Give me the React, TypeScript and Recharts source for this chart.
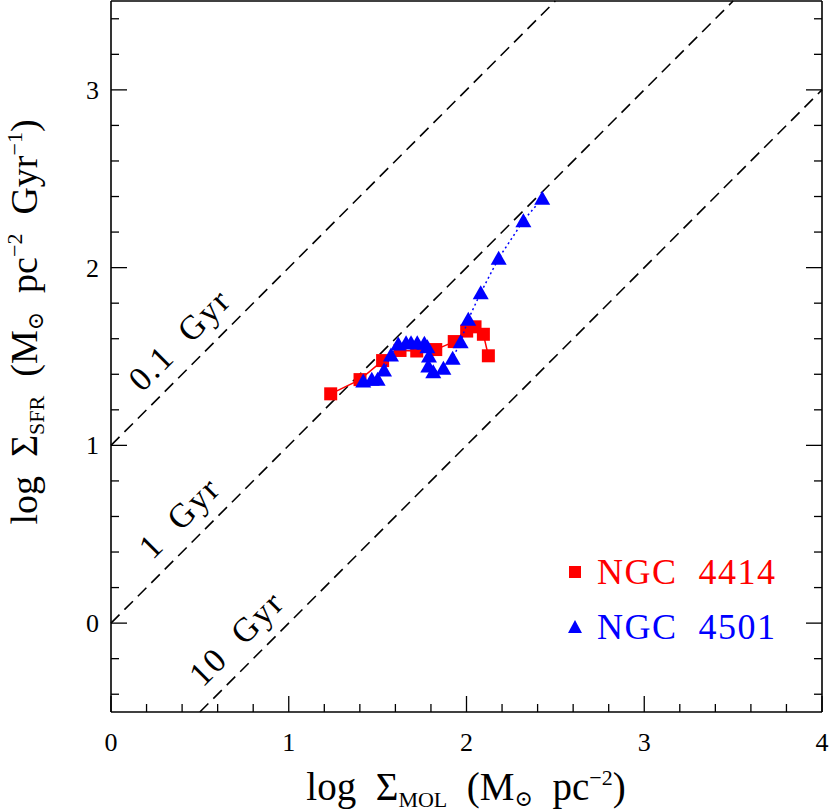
import React from 'react'
import { ScatterChart, Scatter, XAxis, YAxis, ReferenceLine, Legend } from 'recharts'

// NGC 4414 (red squares, solid line)
const ngc4414LogMol = [1.236, 1.401, 1.528, 1.626, 1.72, 1.827, 1.931, 2.001, 2.048, 2.095, 2.123]
const ngc4414LogSfr = [1.29, 1.37, 1.477, 1.534, 1.531, 1.539, 1.584, 1.643, 1.667, 1.625, 1.504]

// NGC 4501 (blue triangles, dotted line)
const ngc4501LogMol = [
  1.419, 1.467, 1.5, 1.536, 1.575, 1.616, 1.66, 1.688, 1.723, 1.763, 1.78,
  1.789, 1.785, 1.813, 1.87, 1.922, 1.967, 2.01, 2.08, 2.181, 2.32, 2.426,
]
const ngc4501LogSfr = [
  1.362, 1.372, 1.372, 1.424, 1.508, 1.57, 1.578, 1.578, 1.578, 1.574, 1.555,
  1.503, 1.446, 1.414, 1.434, 1.49, 1.583, 1.709, 1.859, 2.053, 2.264, 2.39,
]

// constant depletion time lines
const depletionLabels = ['0.1 Gyr', '1 Gyr', '10 Gyr']
const depletionGyr = [0.1, 1, 10]
const depletionLabelAt = [0.49, 0.49, 0.81]

const xDomain = [0, 4]
const yDomain = [-0.5, 3.5]
const xTicks = [0, 0.2, 0.4, 0.6, 0.8, 1, 1.2, 1.4, 1.6, 1.8, 2, 2.2, 2.4, 2.6, 2.8, 3, 3.2, 3.4, 3.6, 3.8, 4]
const yTicks = [-0.4, -0.2, 0, 0.2, 0.4, 0.6, 0.8, 1, 1.2, 1.4, 1.6, 1.8, 2, 2.2, 2.4, 2.6, 2.8, 3, 3.2, 3.4]

const FONT = '"Liberation Serif", "DejaVu Serif", serif'
const RED = '#ff0000'
const BLUE = '#0000ff'

const zip = (xs: number[], ys: number[]) => xs.map((x, i) => ({ x, y: ys[i] }))
const ngc4414 = zip(ngc4414LogMol, ngc4414LogSfr)
const ngc4501 = zip(ngc4501LogMol, ngc4501LogSfr)

const depletionLines = depletionGyr.map((t) => {
  const b = -Math.log10(t)
  const x1 = Math.max(xDomain[0], yDomain[0] - b)
  const x2 = Math.min(xDomain[1], yDomain[1] - b)
  return { t, b, seg: [{ x: x1, y: x1 + b }, { x: x2, y: x2 + b }] }
})

const labelPoints = depletionLines.map((l, i) => ({
  x: depletionLabelAt[i],
  y: depletionLabelAt[i] + l.b,
  text: depletionLabels[i],
}))

const isMajor = (v: number) => Math.abs(v - Math.round(v)) < 1e-6
const MAJOR = 16
const MINOR = 8
const tickStroke = { stroke: '#000', strokeWidth: 1.3 }

function BottomTick(props: any) {
  const { x, y, payload } = props
  const major = isMajor(payload.value)
  return (
    <g>
      <line x1={x} x2={x} y1={y} y2={y - (major ? MAJOR : MINOR)} {...tickStroke} />
      {major && (
        <text x={x} y={y + 39} textAnchor="middle" fontFamily={FONT} fontSize={26} fill="#000">
          {Math.round(payload.value)}
        </text>
      )}
    </g>
  )
}

function TopTick(props: any) {
  const { x, y, payload } = props
  const major = isMajor(payload.value)
  return <line x1={x} x2={x} y1={y} y2={y + (major ? MAJOR : MINOR)} {...tickStroke} />
}

function LeftTick(props: any) {
  const { x, y, payload } = props
  const major = isMajor(payload.value)
  return (
    <g>
      <line x1={x} x2={x + (major ? MAJOR : MINOR)} y1={y} y2={y} {...tickStroke} />
      {major && (
        <text x={x - 12} y={y} dy="0.35em" textAnchor="end" fontFamily={FONT} fontSize={26} fill="#000">
          {Math.round(payload.value)}
        </text>
      )}
    </g>
  )
}

function RightTick(props: any) {
  const { x, y, payload } = props
  const major = isMajor(payload.value)
  return <line x1={x} x2={x - (major ? MAJOR : MINOR)} y1={y} y2={y} {...tickStroke} />
}

const Square = (props: any) => (
  <rect x={props.cx - 6.5} y={props.cy - 6.5} width={13} height={13} fill={RED} />
)

const Triangle = (props: any) => {
  const { cx, cy } = props
  return <polygon points={`${cx - 8},${cy + 6.5} ${cx + 8},${cy + 6.5} ${cx},${cy - 7.5}`} fill={BLUE} />
}

const LineLabel = (props: any) => {
  const { cx, cy, payload } = props
  return (
    <text
      transform={`translate(${cx - 19},${cy - 19}) rotate(-45)`}
      textAnchor="middle"
      dy="0.35em"
      fontFamily={FONT}
      fontSize={34}
      letterSpacing={2}
      style={{ whiteSpace: 'pre' }}
      fill="#000"
    >
      {payload.text.replace(' ', '  ')}
    </text>
  )
}

const legendItems = [
  { name: 'NGC 4414', color: RED, marker: 'square' },
  { name: 'NGC 4501', color: BLUE, marker: 'triangle' },
]

const renderLegend = () => (
  <svg width={260} height={110}>
    {legendItems.map((item, i) => {
      const cy = 24 + i * 55
      return (
        <g key={item.name}>
          {item.marker === 'square' ? (
            <rect x={9} y={cy - 6} width={12} height={12} fill={item.color} />
          ) : (
            <polygon points={`${8},${cy + 6} ${22},${cy + 6} ${15},${cy - 7}`} fill={item.color} />
          )}
          <text
            x={37}
            y={cy + 12}
            fontFamily={FONT}
            fontSize={36}
            letterSpacing={1.5}
            fill={item.color}
            style={{ whiteSpace: 'pre' }}
          >
            {item.name.replace(' ', '  ')}
          </text>
        </g>
      )
    })}
  </svg>
)

const XTitle = () => (
  <text x={466} y={800} textAnchor="middle" fontFamily={FONT} fontSize={39} fill="#000" style={{ whiteSpace: 'pre' }}>
    log  Σ
    <tspan fontSize={22} dy={7}>MOL</tspan>
    <tspan dy={-7}>  (M</tspan>
    <tspan fontSize={22} dy={6}>⊙</tspan>
    <tspan dy={-6}>  pc</tspan>
    <tspan fontSize={22} dy={-15}>−2</tspan>
    <tspan dy={15}>)</tspan>
  </text>
)

const YTitle = () => (
  <text
    transform="translate(37,322) rotate(-90)"
    textAnchor="middle"
    fontFamily={FONT}
    fontSize={38}
    fill="#000"
    style={{ whiteSpace: 'pre' }}
  >
    log  Σ
    <tspan fontSize={22} dy={7}>SFR</tspan>
    <tspan dy={-7}>  (M</tspan>
    <tspan fontSize={22} dy={6}>⊙</tspan>
    <tspan dy={-6}>  pc</tspan>
    <tspan fontSize={22} dy={-15}>−2</tspan>
    <tspan dy={15}>  Gyr</tspan>
    <tspan fontSize={22} dy={-15}>−1</tspan>
    <tspan dy={15}>)</tspan>
  </text>
)

export default function App() {
  const axisLine = { stroke: '#000', strokeWidth: 1.6 }
  return (
    <div style={{ position: 'absolute', left: 0, top: 0, background: '#fff' }}>
      <ScatterChart width={830} height={811} margin={{ top: 0, right: 0, bottom: 0, left: 0 }}>
        <XAxis
          type="number"
          dataKey="x"
          domain={xDomain}
          ticks={xTicks}
          interval={0}
          tickSize={0}
          tickMargin={0}
          tick={<BottomTick />}
          axisLine={axisLine}
          height={99}
          allowDataOverflow
          label={{ content: () => <XTitle /> }}
        />
        <XAxis
          xAxisId="top"
          orientation="top"
          type="number"
          domain={xDomain}
          ticks={xTicks}
          interval={0}
          tickSize={0}
          tickMargin={0}
          tick={<TopTick />}
          axisLine={axisLine}
          height={1}
          allowDataOverflow
        />
        <YAxis
          type="number"
          dataKey="y"
          domain={yDomain}
          ticks={yTicks}
          interval={0}
          tickSize={0}
          tickMargin={0}
          tick={<LeftTick />}
          axisLine={axisLine}
          width={111}
          allowDataOverflow
          label={{ content: () => <YTitle /> }}
        />
        <YAxis
          yAxisId="right"
          orientation="right"
          type="number"
          domain={yDomain}
          ticks={yTicks}
          interval={0}
          tickSize={0}
          tickMargin={0}
          tick={<RightTick />}
          axisLine={axisLine}
          width={8}
          allowDataOverflow
        />
        {depletionLines.map((l) => (
          <ReferenceLine
            key={l.t}
            segment={l.seg}
            stroke="#000"
            strokeWidth={1.6}
            strokeDasharray="12 7"
          />
        ))}
        <Scatter
          name="depletion labels"
          data={labelPoints}
          shape={<LineLabel />}
          legendType="none"
          isAnimationActive={false}
        />
        <Scatter
          name="NGC 4414"
          data={ngc4414}
          fill={RED}
          line={{ stroke: RED, strokeWidth: 1.5 }}
          shape={<Square />}
          isAnimationActive={false}
        />
        <Scatter
          name="NGC 4501"
          data={ngc4501}
          fill={BLUE}
          line={{ stroke: BLUE, strokeWidth: 1.5, strokeDasharray: '2 3' }}
          shape={<Triangle />}
          isAnimationActive={false}
        />
        <Legend
          layout="horizontal"
          verticalAlign="middle"
          align="center"
          content={renderLegend}
          wrapperStyle={{ left: 560, top: 548, width: 260, height: 110 }}
        />
      </ScatterChart>
    </div>
  )
}
